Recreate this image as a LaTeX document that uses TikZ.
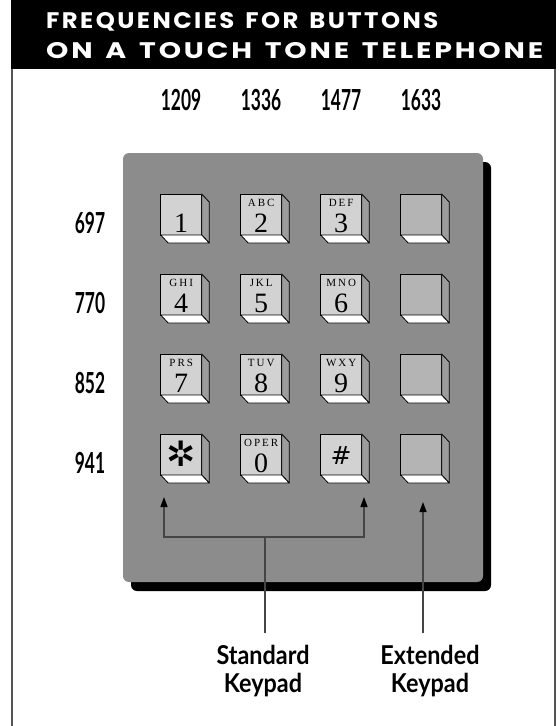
\documentclass[tikz,border=0pt]{standalone}
\usepackage{fontspec}
\usepackage{graphicx}
\usetikzlibrary{arrows.meta}
\newfontfamily\titlefont{Poppins}[LetterSpace=10]
\newfontfamily\lblfont{Lato}
\newfontfamily\keyfont{Liberation Serif}
\newfontfamily\keysmall{Liberation Serif}[LetterSpace=18]
\newfontfamily\symfont{DejaVu Sans}
\definecolor{panelcol}{HTML}{8C8C8C}
\definecolor{keyface}{HTML}{D2D2D2}
\definecolor{extface}{HTML}{B4B4B4}
\definecolor{keyside}{HTML}{9C9C9C}
\definecolor{conncol}{HTML}{454545}
\definecolor{framecol}{HTML}{555555}
\newcommand\freqtxt[1]{\scalebox{0.6}[1]{\lblfont\bfseries\fontsize{29}{30}\selectfont #1}}
\newcommand\bigtxt[1]{\scalebox{0.9}[1]{\lblfont\bfseries\fontsize{26}{28}\selectfont #1}}
\newcommand\tw{\hspace{0.45em}}
\newcommand\tkey[6]{%
  \node[face, fill=#4] (#1) at (#2,#3) {};
  \filldraw[fill=keyside, draw=black, line width=0.8pt, line join=round]
    (#1.north east) -- ++(7.5,8) -- ++(0,41) -- (#1.south east) -- cycle;
  \filldraw[fill=white, draw=black, line width=0.8pt, line join=round]
    (#1.south west) -- ++(7.5,8) -- ++(41,0) -- (#1.south east) -- cycle;
  \node[lettertxt, anchor=base] (#1l) at ([yshift=-12pt]#1.north) {#5};
  \node[digittxt, anchor=base] (#1d) at ([yshift=-38pt]#1.north) {#6};
}
\begin{document}
\begin{tikzpicture}[x=1pt,y=-1pt,
  face/.style={draw=black, line width=0.8pt, minimum size=41pt, inner sep=0pt, outer sep=0pt},
  lettertxt/.style={inner sep=0pt, font=\keysmall\fontsize{11}{12}\selectfont},
  digittxt/.style={inner sep=0pt, font=\keyfont\fontsize{28}{30}\selectfont},
  conn/.style={draw=conncol, line width=1.3pt},
  tip/.style={-{Triangle[length=10pt,width=7pt,color=black]}},
  lab/.style={inner sep=0pt, anchor=base}]
\useasboundingbox (0,0) rectangle (559,726);
\fill[white] (0,0) rectangle (559,726);
% frame
\draw[framecol, line width=2pt] (12,0) -- (12,726);
\draw[framecol, line width=2pt] (555,0) -- (555,726);
\fill[black] (11,0) rectangle (556,69);
\node[anchor=base west, inner sep=0pt, text=white] (t1) at (46,28)
  {\resizebox{392pt}{\height}{\titlefont\bfseries\fontsize{22.5}{24}\selectfont FREQUENCIES\tw FOR\tw BUTTONS}};
\node[anchor=base west, inner sep=0pt, text=white] (t2) at (46,58)
  {\resizebox{497pt}{\height}{\titlefont\bfseries\fontsize{22.5}{24}\selectfont ON\tw A\tw TOUCH\tw TONE\tw TELEPHONE}};
% column frequencies
\node[lab] (c1) at (181,110) {\freqtxt{1209}};
\node[lab] (c2) at (261,110) {\freqtxt{1336}};
\node[lab] (c3) at (341,110) {\freqtxt{1477}};
\node[lab] (c4) at (421,110) {\freqtxt{1633}};
% row frequencies
\node[lab] (r1) at (90,233) {\freqtxt{697}};
\node[lab] (r2) at (90,313) {\freqtxt{770}};
\node[lab] (r3) at (90,393) {\freqtxt{852}};
\node[lab] (r4) at (90,473) {\freqtxt{941}};
% panel
\fill[black, rounded corners=6pt] (131,162) rectangle (491,591);
\fill[panelcol, rounded corners=6pt] (123,153) rectangle (483,582);
% keys
\tkey{k1}{181.2}{214.5}{keyface}{}{1}
\tkey{k2}{261.2}{214.5}{keyface}{ABC}{2}
\tkey{k3}{341.2}{214.5}{keyface}{DEF}{3}
\tkey{kA}{421.2}{214.5}{extface}{}{}
\tkey{k4}{181.2}{294.5}{keyface}{GHI}{4}
\tkey{k5}{261.2}{294.5}{keyface}{JKL}{5}
\tkey{k6}{341.2}{294.5}{keyface}{MNO}{6}
\tkey{kB}{421.2}{294.5}{extface}{}{}
\tkey{k7}{181.2}{374.5}{keyface}{PRS}{7}
\tkey{k8}{261.2}{374.5}{keyface}{TUV}{8}
\tkey{k9}{341.2}{374.5}{keyface}{WXY}{9}
\tkey{kC}{421.2}{374.5}{extface}{}{}
\tkey{ks}{181.2}{454.5}{keyface}{}{}
\tkey{k0}{261.2}{454.5}{keyface}{OPER}{0}
\tkey{kh}{341.2}{454.5}{keyface}{}{}
\tkey{kD}{421.2}{454.5}{extface}{}{}
\node[inner sep=0pt] (star) at ([yshift=1pt]ks.center) {\symfont\fontsize{35}{36}\selectfont ✲};
\node[inner sep=0pt] (hash) at ([yshift=-1pt]kh.center) {\symfont\fontsize{25}{26}\selectfont\#};
% labels
\node[lab] (std1) at (263,664) {\bigtxt{Standard}};
\node[lab] (std2) at (263,692) {\bigtxt{Keypad}};
\node[lab] (ext1) at (430,664) {\bigtxt{Extended}};
\node[lab] (ext2) at (430,692) {\bigtxt{Keypad}};
% connectors
\coordinate (aL) at (164,497);
\coordinate (aR) at (364,497);
\coordinate (j) at (265,537);
\coordinate (sb) at (265,633);
\coordinate (aE) at (423,502);
\coordinate (eb) at (423,633);
\draw[conn] (sb) -- (j);
\draw[conn, tip] (j) -| (aL);
\draw[conn, tip] (j) -| (aR);
\draw[conn, tip] (eb) -- (aE);
\end{tikzpicture}
\end{document}
